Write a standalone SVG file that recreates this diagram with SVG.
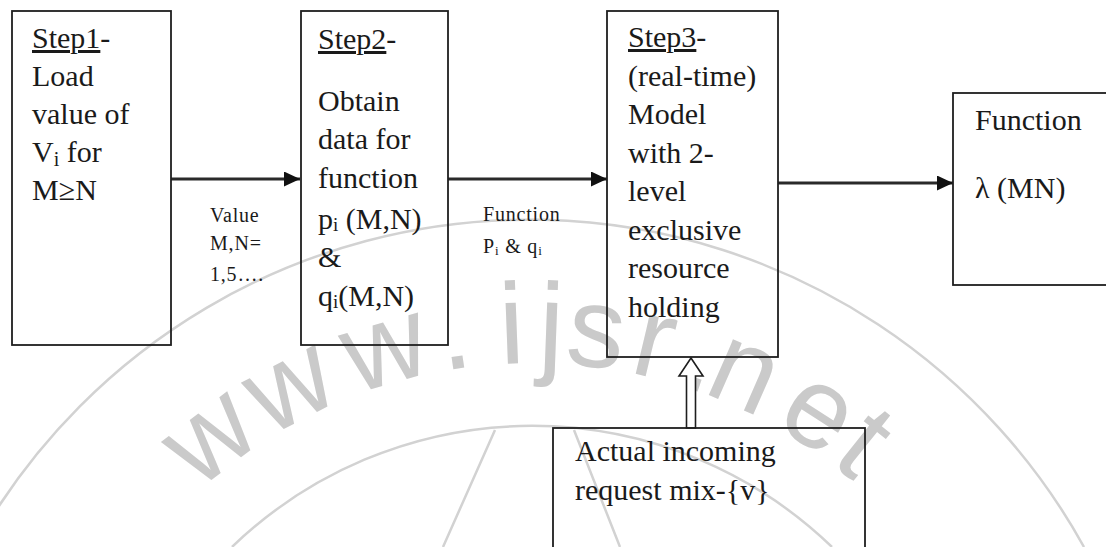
<svg xmlns="http://www.w3.org/2000/svg" width="1106" height="547" viewBox="0 0 1106 547">
  <style>
    .box{fill:none;stroke:#1e1e1e;stroke-width:1.8}
    .t{font-family:"Liberation Serif","Times New Roman",serif;font-size:30px;fill:#1a1a1a}
    .s{font-family:"Liberation Serif","Times New Roman",serif;font-size:20px;letter-spacing:0.8px;fill:#1a1a1a}
    .edge{stroke:#2a2a2a;stroke-width:3;fill:none}
    .wm{font-family:"Liberation Sans",Arial,sans-serif;font-size:115px;fill:#cacaca}
    .ring{fill:none;stroke:#d2d2d2;stroke-width:2.5}
  </style>
  <defs>
    <marker id="head" markerUnits="userSpaceOnUse" markerWidth="17" markerHeight="16" refX="16" refY="7.5" orient="auto">
      <path d="M0,0 L16,7.5 L0,15 Z" fill="#111"/>
    </marker>
  </defs>

  <rect width="1106" height="547" fill="#fff"/>

  <!-- background mark: rings and the site address set glyph by glyph on an arc -->
  <g id="watermark">
    <path class="ring" d="M-10,520 A634,634 0 0 1 1084,547"/>
    <path class="ring" d="M232,547 A432,432 0 0 1 832,547"/>
    <path class="ring" d="M495,430 L443,547 M574,430 L620,547"/>
    <text class="wm"
      x="198.1 268.8 354.8 443.0 500.2 537.3 563.8 628.0 677.2 701.6 773.2 829.0"
      y="490.3 436.7 393.9 370.8 363.9 362.9 363.2 372.1 384.5 391.8 424.6 461.7"
      rotate="-37.45 -27.2 -16.1 -8.5 -2.2 2.1 7.0 13.4 18.9 23.7 32.8 38.7">www.ijsr.net</text>
  </g>

  <!-- connectors -->
  <g id="connectors">
    <line class="edge" x1="171" y1="179" x2="300" y2="179" marker-end="url(#head)"/>
    <line class="edge" x1="448" y1="179" x2="607" y2="179" marker-end="url(#head)"/>
    <line class="edge" x1="778" y1="183" x2="953" y2="183" marker-end="url(#head)"/>
    <path d="M691,358 L703,376 L695.5,376 L695.5,428 L686.5,428 L686.5,376 L679,376 Z" fill="#fff" stroke="#1e1e1e" stroke-width="1.6"/>
    <text class="s" x="210" y="222">Value</text>
    <text class="s" x="210" y="250">M,N=</text>
    <text class="s" x="210" y="281">1,5….</text>
    <text class="s" x="483" y="221">Function</text>
    <text class="s" x="483" y="253">P<tspan font-size="13" dy="2">i</tspan><tspan dy="-2"> &amp; q</tspan><tspan font-size="13" dy="2">i</tspan></text>
  </g>

  <g id="step1">
    <rect class="box" x="12" y="11" width="159" height="334"/>
    <text class="t" x="32" y="48"><tspan text-decoration="underline">Step1</tspan>-</text>
    <text class="t" x="32" y="86">Load</text>
    <text class="t" x="32" y="124">value of</text>
    <text class="t" x="32" y="162">V<tspan font-size="20" dy="4">i</tspan><tspan dy="-4"> for</tspan></text>
    <text class="t" x="32" y="200">M≥N</text>
  </g>

  <g id="step2">
    <rect class="box" x="301" y="11" width="147" height="334"/>
    <text class="t" x="318" y="49"><tspan text-decoration="underline">Step2</tspan>-</text>
    <text class="t" x="318" y="111">Obtain</text>
    <text class="t" x="318" y="149">data for</text>
    <text class="t" x="318" y="188">function</text>
    <text class="t" x="318" y="229">p<tspan font-size="19" dy="2">i</tspan><tspan dy="-2"> (M,N)</tspan></text>
    <text class="t" x="318" y="267">&amp;</text>
    <text class="t" x="318" y="306">q<tspan font-size="19" dy="2">i</tspan><tspan dy="-2">(M,N)</tspan></text>
  </g>

  <g id="step3">
    <rect class="box" x="607" y="11" width="171" height="346"/>
    <text class="t" x="628" y="47"><tspan text-decoration="underline">Step3</tspan>-</text>
    <text class="t" x="628" y="85.5">(real-time)</text>
    <text class="t" x="628" y="124">Model</text>
    <text class="t" x="628" y="162.5">with 2-</text>
    <text class="t" x="628" y="201">level</text>
    <text class="t" x="628" y="239.5">exclusive</text>
    <text class="t" x="628" y="278">resource</text>
    <text class="t" x="628" y="316.5">holding</text>
  </g>

  <g id="result">
    <rect class="box" x="953" y="93" width="170" height="192"/>
    <text class="t" x="975" y="130">Function</text>
    <text class="t" x="975" y="198">λ (MN)</text>
  </g>

  <g id="requests">
    <rect class="box" x="553" y="428" width="312" height="140"/>
    <text class="t" x="575" y="461">Actual incoming</text>
    <text class="t" x="575" y="500">request mix-{v}</text>
  </g>
</svg>
